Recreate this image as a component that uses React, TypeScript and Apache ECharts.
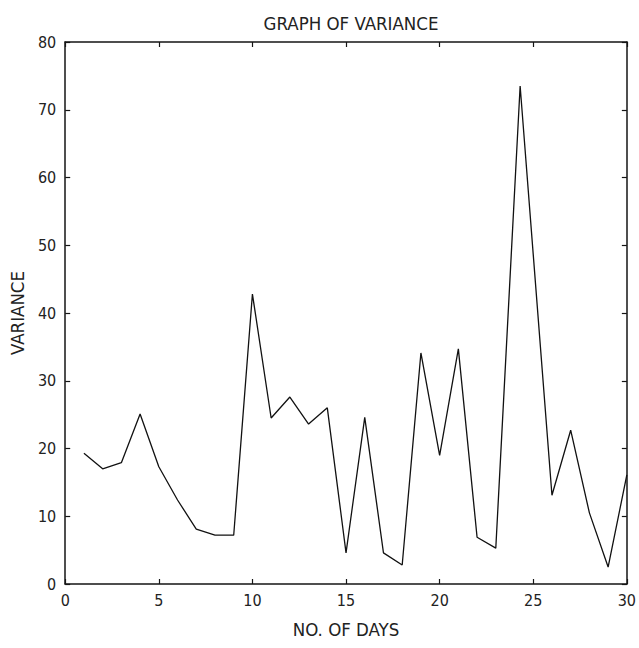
import React, { useEffect, useRef } from "react";
import * as echarts from "echarts";

const days = [1, 2, 3, 4, 5, 6, 7, 8, 9, 10, 11, 12, 13, 14, 15, 16, 17, 18, 19, 20, 21, 22, 23, 24.3, 26, 27, 28, 29, 30];
const variance = [19.3, 17.0, 17.9, 25.1, 17.3, 12.4, 8.1, 7.2, 7.2, 42.8, 24.5, 27.6, 23.6, 26.0, 4.6, 24.6, 4.6, 2.8, 34.1, 19.0, 34.7, 6.9, 5.3, 73.5, 13.1, 22.7, 10.5, 2.5, 16.1];
const xTicks = [0, 5, 10, 15, 20, 25, 30];
const yTicks = [0, 10, 20, 30, 40, 50, 60, 70, 80];

const FONT = "'DejaVu Sans Condensed', 'Liberation Sans Narrow', 'Liberation Sans', sans-serif";

export default function App() {
  const ref = useRef<HTMLDivElement>(null);
  useEffect(() => {
    if (!ref.current) return;
    const chart = echarts.init(ref.current, undefined, { renderer: "svg" });
    const axisLine = { show: true, onZero: false, lineStyle: { color: "#151515", width: 1.5 } };
    const axisTick = { show: true, inside: true, length: 5, lineStyle: { color: "#151515", width: 1.2 } };
    chart.setOption({
      animation: false,
      backgroundColor: "#fff",
      title: {
        text: "GRAPH OF VARIANCE",
        left: 346,
        top: 9,
        textAlign: "center",
        textStyle: { fontFamily: FONT, fontSize: 18.5, fontWeight: "normal", color: "#222" },
      },
      grid: { left: 63, right: 12, top: 42, bottom: 64 },
      xAxis: [
        {
          type: "value",
          min: xTicks[0],
          max: xTicks[xTicks.length - 1],
          interval: 5,
          name: "NO. OF DAYS",
          nameLocation: "middle",
          nameGap: 36,
          nameTextStyle: { fontFamily: FONT, fontSize: 18.5, color: "#222" },
          axisLine,
          axisTick,
          splitLine: { show: false },
          axisLabel: { fontFamily: FONT, fontSize: 16, color: "#222", margin: 8 },
        },
        {
          type: "value",
          position: "top",
          min: xTicks[0],
          max: xTicks[xTicks.length - 1],
          interval: 5,
          axisLine,
          axisTick,
          splitLine: { show: false },
          axisLabel: { show: false },
        },
      ],
      yAxis: [
        {
          type: "value",
          min: yTicks[0],
          max: yTicks[yTicks.length - 1],
          interval: 10,
          name: "VARIANCE",
          nameLocation: "middle",
          nameGap: 34,
          nameTextStyle: { fontFamily: FONT, fontSize: 18.5, color: "#222" },
          axisLine,
          axisTick,
          splitLine: { show: false },
          axisLabel: { fontFamily: FONT, fontSize: 16, color: "#222", margin: 9 },
        },
        {
          type: "value",
          position: "right",
          min: yTicks[0],
          max: yTicks[yTicks.length - 1],
          interval: 10,
          axisLine,
          axisTick,
          splitLine: { show: false },
          axisLabel: { show: false },
        },
      ],
      series: [
        {
          type: "line",
          data: days.map((d, i) => [d, variance[i]]),
          showSymbol: false,
          symbol: "none",
          lineStyle: { color: "#111", width: 1.3 },
        },
      ],
    });
    return () => chart.dispose();
  }, []);
  return (
    <div
      ref={ref}
      style={{ position: "fixed", left: 0, top: 0, width: 639, height: 648, background: "#fff" }}
    />
  );
}
